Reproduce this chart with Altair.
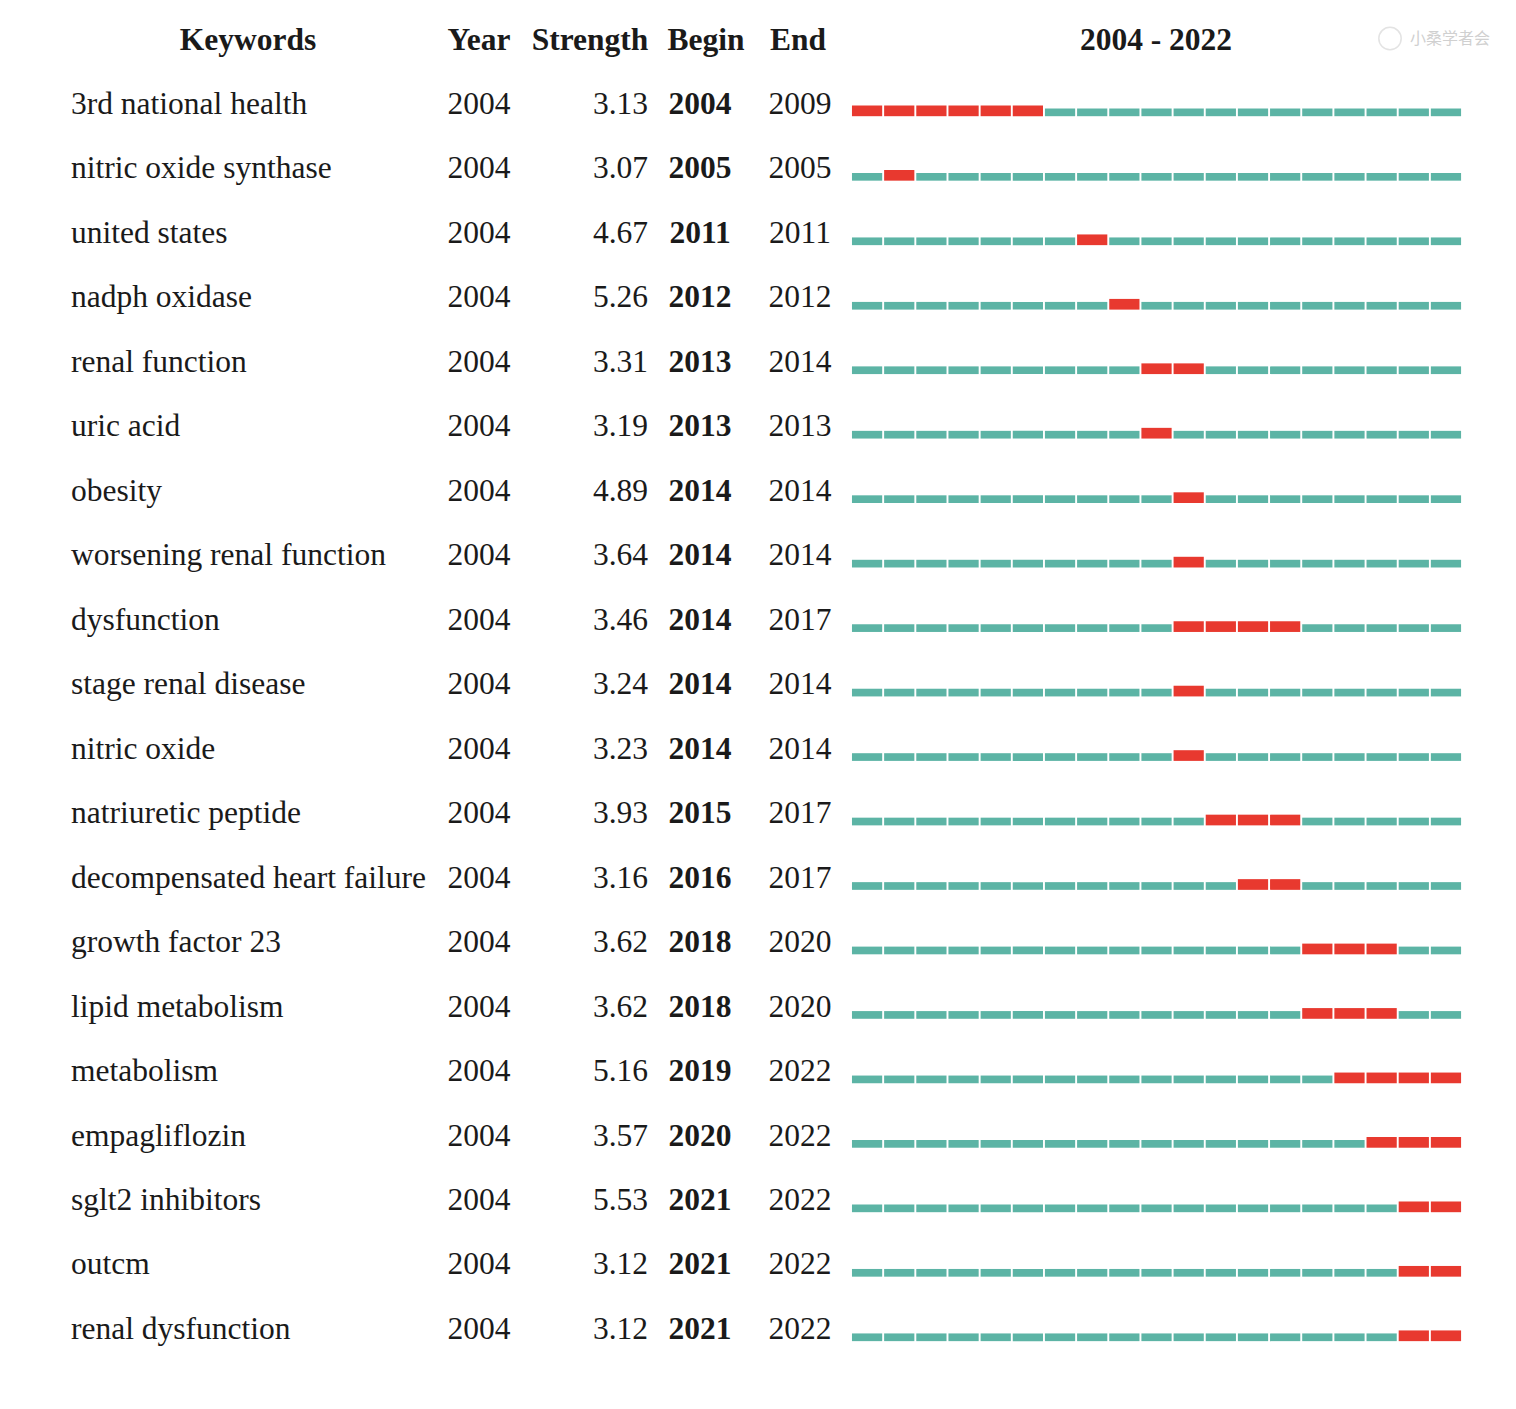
import altair as alt
import pandas as pd

keywords = ["3rd national health", "nitric oxide synthase", "united states", "nadph oxidase",
            "renal function", "uric acid", "obesity", "worsening renal function", "dysfunction",
            "stage renal disease", "nitric oxide", "natriuretic peptide",
            "decompensated heart failure", "growth factor 23", "lipid metabolism", "metabolism",
            "empagliflozin", "sglt2 inhibitors", "outcm", "renal dysfunction"]
year = [2004] * 20
strength = [3.13, 3.07, 4.67, 5.26, 3.31, 3.19, 4.89, 3.64, 3.46, 3.24, 3.23, 3.93,
            3.16, 3.62, 3.62, 5.16, 3.57, 5.53, 3.12, 3.12]
begin = [2004, 2005, 2011, 2012, 2013, 2013, 2014, 2014, 2014, 2014, 2014, 2015,
         2016, 2018, 2018, 2019, 2020, 2021, 2021, 2021]
end = [2009, 2005, 2011, 2012, 2014, 2013, 2014, 2014, 2017, 2014, 2014, 2017,
       2017, 2020, 2020, 2022, 2022, 2022, 2022, 2022]
headers = ["Keywords", "Year", "Strength", "Begin", "End", "2004 - 2022"]
first_year, last_year = 2004, 2022

FONT = "Liberation Serif"
RED = "#E8392F"
TEAL = "#5CB4A5"
W, H = 1500, 1390
ROW_PX = 64.47
YMIN = -(103 - 8) / ROW_PX
YMAX = YMIN + H / ROW_PX
XPX = 32.16
XMIN = first_year - (851 - 8) / XPX
XMAX = XMIN + W / XPX

rows = pd.DataFrame({
    "row": list(range(len(keywords))),
    "keyword": keywords,
    "year": [str(v) for v in year],
    "strength": [f"{v:.2f}" for v in strength],
    "begin": [str(v) for v in begin],
    "end": [str(v) for v in end],
})

seg = []
for i in range(len(keywords)):
    for y in range(first_year, last_year + 1):
        seg.append({"row": i, "yr": y, "burst": begin[i] <= y <= end[i]})
seg = pd.DataFrame(seg)

hdr = pd.DataFrame({"h": headers, "row": [-1] * len(headers),
                    "px": [240, 471, 582, 698, 790, 1148]})

xs = alt.Scale(domain=[XMIN, XMAX], nice=False, zero=False)
ys = alt.Scale(domain=[YMIN, YMAX], nice=False, zero=False, reverse=True)

def txt(field, px, align="center", bold=False):
    return alt.Chart(rows).mark_text(
        font=FONT, fontSize=31.5, align=align, baseline="middle", dy=2,
        fontWeight="bold" if bold else "normal", color="#1a1a1a"
    ).encode(
        x=alt.value(px),
        y=alt.Y("row:Q", scale=ys, axis=None),
        text=f"{field}:N",
    )

layers = [
    txt("keyword", 63, "left"),
    txt("year", 471),
    txt("strength", 640, "right"),
    txt("begin", 692, bold=True),
    txt("end", 792),
]

header = alt.Chart(hdr).mark_text(
    font=FONT, fontSize=31.5, fontWeight="bold", align="center", baseline="middle", dy=2,
    color="#1a1a1a"
).encode(
    x=alt.X("px:Q", scale=alt.Scale(domain=[0, W], range=[0, W], nice=False), axis=None),
    y=alt.Y("row:Q", scale=ys, axis=None),
    text="h:N",
)

bars = alt.Chart(seg).transform_calculate(
    x1="datum.yr + 0.03",
    x2="datum.yr + 0.97",
    y1=f"datum.row + (datum.burst ? {2.5/ROW_PX} : {5.5/ROW_PX})",
    y2=f"datum.row + {13.2/ROW_PX}",
).mark_rect().encode(
    x=alt.X("x1:Q", scale=xs, axis=None),
    x2="x2:Q",
    y=alt.Y("y1:Q", scale=ys, axis=None),
    y2="y2:Q",
    color=alt.Color("burst:N", scale=alt.Scale(domain=[True, False], range=[RED, TEAL]), legend=None),
)

wm = pd.DataFrame({"t": ["小桑学者会"], "row": [-1]})
watermark_logo = alt.Chart(wm).mark_point(
    shape="circle", size=500, color="#d8d8d8", strokeWidth=1.5, filled=False
).encode(x=alt.value(1382), y=alt.Y("row:Q", scale=ys, axis=None))
watermark_text = alt.Chart(wm).mark_text(
    font="Noto Sans CJK SC", fontSize=16, color="#d0d0d0", align="left", baseline="middle"
).encode(x=alt.value(1402), y=alt.Y("row:Q", scale=ys, axis=None), text="t:N")

chart = alt.layer(bars, header, *layers, watermark_logo, watermark_text).resolve_scale(
    x="independent"
).properties(
    width=W, height=H, padding=0, autosize=alt.AutoSizeParams(type="none"),
    background="white",
).configure_view(stroke=None, strokeWidth=0)

chart.save("out.html", embed_options={"renderer": "svg", "actions": False})
